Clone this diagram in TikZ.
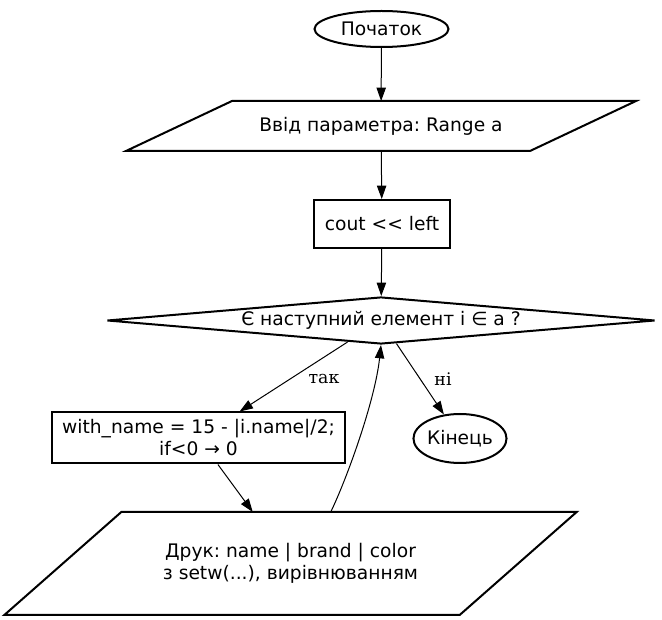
\documentclass[tikz,border=0pt]{standalone}
\usepackage{fontspec}
\setmainfont{DejaVu Sans}[Ligatures=TeXOff]
\newfontfamily\edgefont{DejaVu Serif}
\usepackage{tikz}
\usetikzlibrary{arrows.meta}
\usetikzlibrary{shapes.geometric}
\usetikzlibrary{calc}
\frenchspacing
\tikzset{
block/.style={draw=black, line width=1.5pt, font=\fontsize{14}{16.5}\selectfont, align=center, inner sep=0pt},
terminal/.style={block, shape=ellipse},
process/.style={block, shape=rectangle},
io/.style={block, shape=rectangle, draw=none},
decision/.style={block, shape=diamond, aspect=11.66},
outline/.style={draw=black, line width=1.5pt},
flow/.style={-{Triangle[length=10pt,width=7pt]}, line width=0.75pt},
edgelabel/.style={font=\edgefont\fontsize{13}{15}\selectfont, inner sep=0pt}}

\begin{document}
\begin{tikzpicture}[x=0.75pt, y=-0.75pt]

            \useasboundingbox (0,0) rectangle (662,620);

                    \node[terminal, minimum width=100.5pt, minimum height=27pt] (start) at (381.5,29) {Початок};
                    \node[io, minimum width=301.5pt, minimum height=36pt] (input) at (381,126) {Ввід параметра: Range a};
                    \node[process, minimum width=102pt, minimum height=36pt] (cout) at (382,224) {cout << left};
                    \node[decision, minimum width=411pt, minimum height=35.25pt] (check) at (381,320.5) {Є наступний елемент і ∈ а ?};
                    \node[process, minimum width=219.75pt, minimum height=38.25pt] (width) at (198.5,438) {with\_name = 15 - |i.name|/2;\\if<0 → 0};
                    \node[terminal, minimum width=64.5pt, minimum height=36.75pt] (finish) at (460,438.5) {Кінець};
                    \node[io, minimum width=340pt, minimum height=75.75pt] (print) at (290.5,563.5) {Друк: name | brand | color\\з setw(...), вирівнюванням};

                    % parallelograms round the input/output nodes
                    \draw[outline] ($(input.north west)+(53,0)$) -- ($(input.north east)+(53,0)$) -- ($(input.south east)+(-53,0)$) -- ($(input.south west)+(-53,0)$) -- cycle;
                    \draw[outline] ($(print.north west)+(58.5,0)$) -- ($(print.north east)+(58.5,0)$) -- ($(print.south east)+(-58.5,0)$) -- ($(print.south west)+(-58.5,0)$) -- cycle;

                    \draw[flow] (start) -- (input);
                    \draw[flow] (input) -- (cout);
                    \draw[flow] (cout) -- (check);
                    \draw[flow] (check) -- (width);
                    \draw[flow] (check) -- (finish);
                    \draw[flow] (width) -- (print);
                    \draw[flow] (print.52) .. controls +(16,-33) and +(-6,56) .. (check.south);

                    \node[edgelabel] (yes) at (324,379) {так};
                    \node[edgelabel] (no) at (443,379) {ні};

                \end{tikzpicture}
\end{document}
